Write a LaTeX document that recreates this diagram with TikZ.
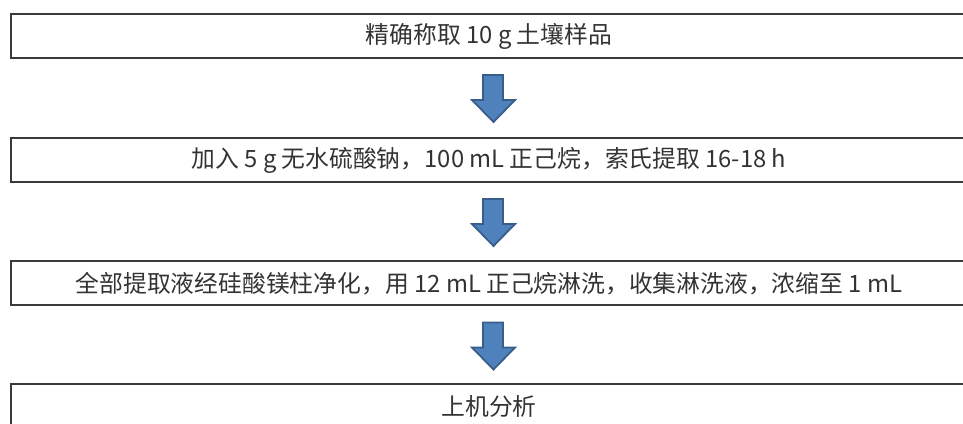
\documentclass[tikz,border=0pt]{standalone}
\usepackage{fontspec}
\newfontfamily\cjk{Noto Sans CJK SC}
\usetikzlibrary{calc}
\definecolor{boxline}{HTML}{3A3A3A}
\definecolor{txt}{HTML}{333333}
\definecolor{arrfill}{HTML}{4F81BD}
\definecolor{arrline}{HTML}{385D8A}
\tikzset{
  stepbox/.style={draw=boxline, line width=2pt, minimum width=956pt, minimum height=44pt,
    inner sep=0pt, text=txt, font=\cjk\fontsize{23.8}{28}\selectfont},
  barrow/.style={fill=arrfill, draw=arrline, line width=1.8pt, line join=miter}
}
\begin{document}
\begin{tikzpicture}[x=1pt,y=1pt]
\useasboundingbox (0,0) rectangle (963,423);
\clip (0,0) rectangle (963,423);
\node[stepbox] (b1) at (489,387) {精确称取 10 g 土壤样品};
\node[stepbox] (b2) at (489,263) {加入 5 g 无水硫酸钠，100 mL 正己烷，索氏提取 16-18 h};
\node[stepbox] (b3) at (489,139.5) {全部提取液经硅酸镁柱净化，用 12 mL 正己烷淋洗，收集淋洗液，浓缩至 1 mL};
\node[stepbox] (b4) at (489,17) {上机分析};
\foreach \a/\b in {b1/b2,b2/b3,b3/b4}{
  \draw[barrow] ($(\a.south)+(-6,-16)$) -- ++(20,0) -- ++(0,-25) -- ++(12,0)
     -- ++(-21.5,-22) -- ++(-21.5,22) -- ++(11,0) -- cycle;
}
\end{tikzpicture}
\end{document}
